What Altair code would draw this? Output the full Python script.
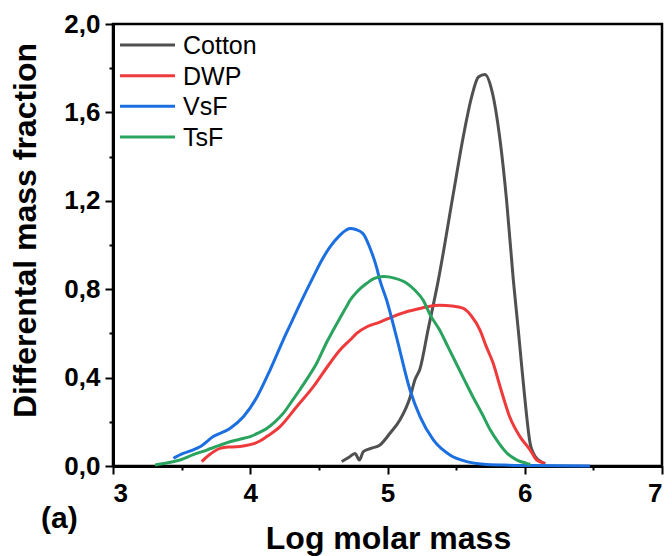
import altair as alt
import pandas as pd

series_order = ["Cotton", "DWP", "VsF", "TsF"]
series_colors = ["#505050", "#ef3a3c", "#1c6fe0", "#2aa35f"]

cotton_x = [4.666, 4.72, 4.763, 4.795, 4.824, 4.88, 4.945, 5.018, 5.09, 5.164, 5.20, 5.237, 5.295, 5.37, 5.48, 5.552, 5.613, 5.662, 5.71, 5.76, 5.82, 5.868, 5.917, 5.953, 5.975, 6.00, 6.04, 6.08, 6.15]
cotton_y = [0.02, 0.04, 0.057, 0.027, 0.065, 0.08, 0.095, 0.148, 0.208, 0.31, 0.39, 0.44, 0.615, 0.84, 1.234, 1.49, 1.67, 1.76, 1.772, 1.70, 1.475, 1.2, 0.84, 0.615, 0.47, 0.31, 0.10, 0.04, 0.01]

dwp_x = [3.646, 3.70, 3.78, 3.84, 3.90, 3.96, 4.02, 4.07, 4.12, 4.217, 4.338, 4.46, 4.58, 4.654, 4.727, 4.775, 4.85, 4.94, 5.04, 5.15, 5.237, 5.30, 5.38, 5.47, 5.552, 5.61, 5.674, 5.72, 5.77, 5.82, 5.89, 5.965, 6.04, 6.087, 6.147]
dwp_y = [0.02, 0.05, 0.08, 0.086, 0.087, 0.092, 0.10, 0.113, 0.133, 0.178, 0.268, 0.359, 0.465, 0.525, 0.57, 0.60, 0.63, 0.65, 0.676, 0.70, 0.713, 0.722, 0.727, 0.724, 0.713, 0.68, 0.615, 0.54, 0.465, 0.36, 0.223, 0.133, 0.072, 0.027, 0.012]

vsf_x = [3.44, 3.512, 3.57, 3.634, 3.73, 3.852, 3.95, 4.047, 4.144, 4.24, 4.30, 4.36, 4.46, 4.52, 4.58, 4.654, 4.70, 4.727, 4.77, 4.824, 4.87, 4.92, 4.945, 4.994, 5.067, 5.164, 5.237, 5.334, 5.455, 5.577, 5.70, 5.85, 6.05, 6.475]
vsf_y = [0.035, 0.057, 0.07, 0.087, 0.133, 0.17, 0.223, 0.31, 0.434, 0.57, 0.65, 0.73, 0.857, 0.93, 0.99, 1.045, 1.068, 1.075, 1.07, 1.05, 0.99, 0.90, 0.84, 0.75, 0.58, 0.344, 0.223, 0.118, 0.05, 0.02, 0.008, 0.004, 0.002, 0.0]

tsf_x = [3.306, 3.40, 3.488, 3.58, 3.683, 3.77, 3.852, 3.93, 4.0, 4.06, 4.12, 4.18, 4.24, 4.30, 4.36, 4.42, 4.484, 4.557, 4.605, 4.654, 4.70, 4.727, 4.78, 4.85, 4.90, 4.97, 5.05, 5.14, 5.20, 5.26, 5.31, 5.38, 5.44, 5.50, 5.56, 5.625, 5.69, 5.747, 5.81, 5.868, 5.94, 6.014, 6.04]
tsf_y = [0.005, 0.015, 0.027, 0.05, 0.072, 0.092, 0.11, 0.122, 0.133, 0.15, 0.17, 0.20, 0.238, 0.29, 0.344, 0.40, 0.465, 0.56, 0.615, 0.67, 0.72, 0.75, 0.79, 0.827, 0.848, 0.857, 0.85, 0.827, 0.795, 0.75, 0.685, 0.615, 0.54, 0.465, 0.39, 0.31, 0.235, 0.165, 0.105, 0.06, 0.028, 0.012, 0.008]

x_major = [3, 4, 5, 6, 7]
x_minor = [3.5, 4.5, 5.5, 6.5]
y_major = [0.0, 0.4, 0.8, 1.2, 1.6, 2.0]
y_minor = [0.2, 0.6, 1.0, 1.4, 1.8]

rows = []
for name, xs, ys in [("Cotton", cotton_x, cotton_y), ("DWP", dwp_x, dwp_y),
                     ("VsF", vsf_x, vsf_y), ("TsF", tsf_x, tsf_y)]:
    for i, (a, b) in enumerate(zip(xs, ys)):
        rows.append({"series": name, "x": a, "y": b, "order": i})
df = pd.DataFrame(rows)
legend_df = pd.DataFrame({"series": series_order})

FONT = "Liberation Sans"
W, H = 549, 442

xscale = alt.Scale(domain=[3, 7], nice=False, zero=False)
yscale = alt.Scale(domain=[0, 2.0], nice=False, zero=False)
cscale = alt.Scale(domain=series_order, range=series_colors)

lines = alt.Chart(df).mark_line(strokeWidth=3, interpolate="monotone").encode(
    x=alt.X("x:Q", scale=xscale, axis=alt.Axis(
        values=x_major, format="d", title="Log molar mass", orient="bottom",
        titleFontSize=32, titleFont=FONT, titleFontWeight="bold",
        titleX=275, titleY=82, titleBaseline="alphabetic", titleAnchor="middle", titleAlign="center",
        labelFontSize=26, labelPadding=6, tickSize=8)),
    y=alt.Y("y:Q", scale=yscale, axis=alt.Axis(
        values=y_major, labelExpr="replace(format(datum.value, '.1f'), '.', ',')",
        title="Differental mass fraction", orient="left",
        titleFontSize=32, titleFont=FONT, titleFontWeight="bold",
        titleX=-78, titleY=206, titleAngle=-90, titleBaseline="alphabetic", titleAlign="center",
        labelFontSize=26, labelPadding=5, tickSize=8)),
    color=alt.Color("series:N", scale=cscale, legend=None),
    order="order:Q",
)

minor = alt.Chart(pd.DataFrame({"x": [3.0], "y": [0.0]})).mark_point(opacity=0).encode(
    x=alt.X("x:Q", scale=xscale, axis=alt.Axis(values=x_minor, labels=False, title=None,
                                               tickSize=4, domain=False, orient="bottom")),
    y=alt.Y("y:Q", scale=yscale, axis=alt.Axis(values=y_minor, labels=False, title=None,
                                               tickSize=4, domain=False, orient="left")),
)

leg_y = alt.Y("series:N", scale=alt.Scale(type="point", domain=series_order, range=[21, 113], padding=0),
              axis=None)
leg_lines = alt.Chart(legend_df).mark_rule(strokeWidth=3).encode(
    x=alt.value(7), x2=alt.value(62), y=leg_y,
    color=alt.Color("series:N", scale=cscale, legend=None),
)
leg_text = alt.Chart(legend_df).mark_text(
    font=FONT, fontSize=25, align="left", baseline="middle", color="black", dy=1
).encode(x=alt.value(70), y=leg_y, text="series:N")

label_a = alt.Chart(pd.DataFrame({"t": ["(a)"]})).mark_text(
    font=FONT, fontWeight="bold", fontSize=30, align="left", baseline="alphabetic", color="black"
).encode(text="t:N", x=alt.value(-72), y=alt.value(62 + H))

main = alt.layer(lines, minor).resolve_axis(x="independent", y="independent")
legend = alt.layer(leg_lines, leg_text)

chart = alt.layer(main, legend, label_a).resolve_scale(y="independent").resolve_axis(
    x="independent", y="independent").properties(
    width=W, height=H,
    autosize=alt.AutoSizeParams(type="none"),
    padding={"left": 113, "top": 24, "right": 10, "bottom": 90},
).configure_view(stroke="black", strokeWidth=2.5).configure_axis(
    grid=False, domainColor="black", domainWidth=3, tickColor="black", tickWidth=2,
    labelColor="black", labelFont=FONT, labelFontWeight="bold", titleColor="black",
)

chart.save("out.html", embed_options={"renderer": "svg", "actions": False})
